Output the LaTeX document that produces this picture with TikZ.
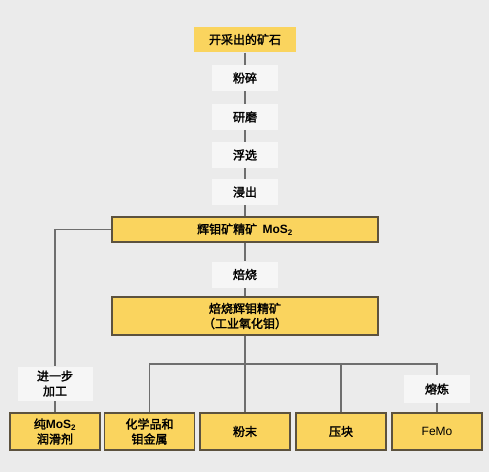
\documentclass[tikz,border=0pt]{standalone}
\usepackage{fontspec}
\setmainfont{Noto Sans CJK SC}[FakeBold=2]
\newfontfamily\latinsans{Liberation Sans}
\usepackage{tikz}
\usetikzlibrary{positioning,calc,backgrounds}

\definecolor{pagegray}{HTML}{EBEBEB}
\definecolor{boxyellow}{HTML}{FAD45E}
\definecolor{boxedge}{HTML}{5C523E}
\definecolor{stepwhite}{HTML}{F6F6F6}
\definecolor{flowgray}{HTML}{6E6E6E}

\tikzset{
  product/.style={fill=boxyellow, draw=boxedge, line width=1.2pt, inner sep=0pt,
    align=center, font=\fontsize{12}{14}\selectfont},
  stepbox/.style={fill=stepwhite, inner sep=0pt, minimum width=66pt, minimum height=26pt,
    align=center, font=\fontsize{12}{14}\selectfont},
  flow/.style={draw=flowgray, line width=1.8pt}
}
\newcommand{\mosii}{{\latinsans\bfseries MoS\textsubscript{2}}}

\begin{document}
\begin{tikzpicture}[x=1pt,y=-1pt]
  \useasboundingbox (0,0) rectangle (489,472);
  % ore and dressing steps
  \node[product, draw=none, minimum width=102pt, minimum height=25pt] (ore) at (245,39.5) {开采出的矿石};
  \node[stepbox] (crush) at (245,78) {粉碎};
  \node[stepbox] (grind) at (245,117) {研磨};
  \node[stepbox] (float) at (245,155) {浮选};
  \node[stepbox] (leach) at (245,192) {浸出};
  % concentrate and roasting
  \node[product, minimum width=266pt, minimum height=25pt] (conc) at (245,229.5)
    {辉钼矿精矿\ \ \mosii};
  \node[stepbox] (roast) at (245,274.5) {焙烧};
  \node[product, minimum width=266pt, minimum height=38pt, font=\fontsize{12}{15}\selectfont] (oxide) at (245,316)
    {焙烧辉钼精矿\\（工业氧化钼）};
  % side steps
  \node[stepbox, minimum width=75pt, minimum height=34pt, font=\fontsize{12}{15}\selectfont] (further) at (55,383.5) {进一步\\加工};
  \node[stepbox, minimum height=28pt] (smelt) at (437,389) {熔炼};
  % end products
  \foreach \n/\x/\t in {lube/55/{纯\mosii\\润滑剂},
      chem/149.5/{化学品和\\钼金属}, powder/245/{粉末}, briq/341/{压块},
      femo/437/{\mdseries\latinsans FeMo}}
    \node[product, minimum width=90pt, minimum height=37pt, font=\fontsize{12}{15}\selectfont] (\n) at (\x,431.5) {\t};
  \coordinate (hub) at (245,364);

  \begin{scope}[on background layer]
    \fill[pagegray] (0,0) rectangle (489,472);
    \draw[flow] (ore) -- (crush) -- (grind) -- (float) -- (leach) -- (conc) -- (roast) -- (oxide);
    \draw[flow] (oxide) -- (powder);
    \draw[flow] (chem.north) |- (hub) -| (smelt.north);
    \draw[flow] (smelt) -- (femo);
    \draw[flow] (briq.north) -- (briq.north |- hub);
    \draw[flow] (conc.west) -| (further) -- (lube);
  \end{scope}
\end{tikzpicture}
\end{document}
